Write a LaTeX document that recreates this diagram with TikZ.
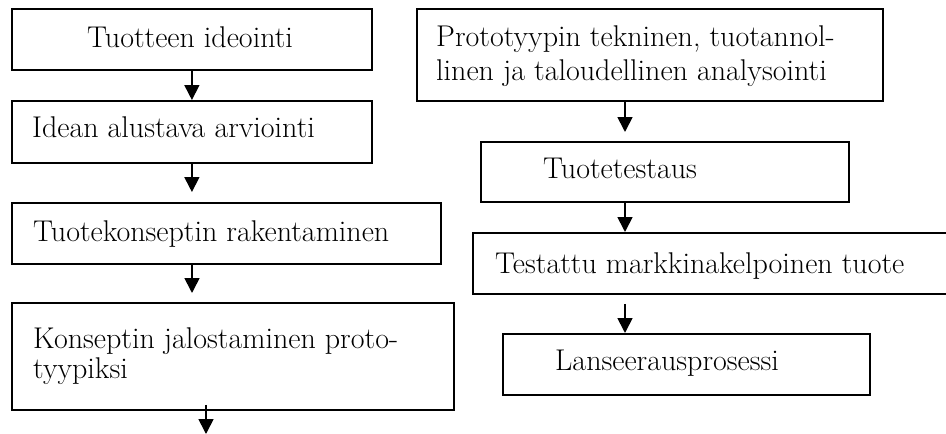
\documentclass[tikz,border=0pt]{standalone}
\usetikzlibrary{arrows.meta}
\begin{document}
\begin{tikzpicture}[x=1pt,y=-1pt,
  box/.style={draw=black,line width=1.8pt,rectangle,inner sep=0pt,anchor=north west},
  txt/.style={anchor=base west,inner sep=0pt,font=\fontsize{30}{34}\selectfont},
  arr/.style={line width=1.7pt,-{Triangle[width=15pt,length=15pt]}}]
\useasboundingbox[fill=white] (0,0) rectangle (946,434);
% left column
\node[box,minimum width=360pt,minimum height=61pt] (b1) at (11,8) {};
\node[box,minimum width=360pt,minimum height=62pt] (b2) at (11,100) {};
\node[box,minimum width=429pt,minimum height=61pt] (b3) at (11,202) {};
\node[box,minimum width=442pt,minimum height=107pt] (b4) at (11,302) {};
\node[txt] (t1) at (87,47) {Tuotteen ideointi};
\node[txt] (t2) at (32,137) {Idean alustava arviointi};
\node[txt] (t3) at (33,241) {Tuotekonseptin rakentaminen};
\node[txt] (t4a) at (33,348) {Konseptin jalostaminen proto-};
\node[txt] (t4b) at (33,378) {tyypiksi};
% right column
\node[box,minimum width=466pt,minimum height=92pt] (b5) at (416,8) {};
\node[box,minimum width=368pt,minimum height=60pt] (b6) at (480,141) {};
\node[box,minimum width=476pt,minimum height=61pt] (b7) at (472,232) {};
\node[box,minimum width=367pt,minimum height=61pt] (b8) at (502,333) {};
\node[txt] (t5a) at (436,46) {Prototyypin tekninen, tuotannol-};
\node[txt] (t5b) at (436,80) {linen ja taloudellinen analysointi};
\node[txt] (t6) at (543,178) {Tuotetestaus};
\node[txt] (t7) at (495,273) {Testattu markkinakelpoinen tuote};
\node[txt] (t8) at (555,370) {Lanseerausprosessi};
% connectors
\coordinate (lc) at (192,0);
\coordinate (end4) at (206,434);
\coordinate (rc) at (625,0);
\draw[arr] (b1.south) -- (b2.north);
\draw[arr,shorten >=10pt] (b2.south) -- (b2.south |- b3.north);
\draw[arr,shorten >=9pt] (b3.south -| lc) -- (b4.north -| lc);
\draw[arr] ([yshift=6pt]b4.south -| end4) -- (end4);
\draw[arr,shorten >=9pt] (b5.south -| rc) -- (b6.north -| rc);
\draw[arr] (b6.south -| rc) -- (b7.north -| rc);
\draw[arr,shorten <=9pt] (b7.south -| rc) -- (b8.north -| rc);
\end{tikzpicture}
\end{document}
